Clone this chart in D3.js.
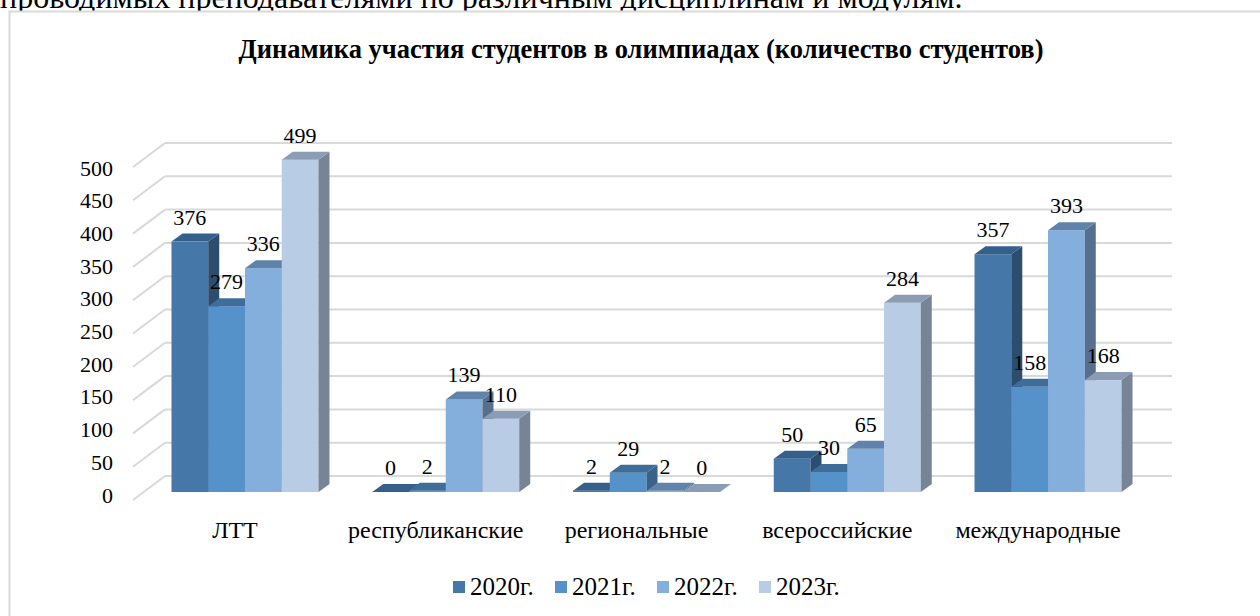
<!DOCTYPE html>
<html>
<head>
<meta charset="utf-8">
<script src="https://cdn.jsdelivr.net/npm/d3@7"></script>
<style>
  body { margin: 0; background: #fff; }
  svg text { font-family: "Liberation Serif", "Times New Roman", serif; fill: #000; }
</style>
</head>
<body>
<script>
// data
var categories = ["ЛТТ", "республиканские", "региональные", "всероссийские", "международные"];
var years = ["2020г.", "2021г.", "2022г.", "2023г."];
var v2020 = [376, 0, 2, 50, 357];
var v2021 = [279, 2, 29, 30, 158];
var v2022 = [336, 139, 2, 65, 393];
var v2023 = [499, 110, 0, 284, 168];
var yTicks = [0, 50, 100, 150, 200, 250, 300, 350, 400, 450, 500];

var series = [v2020, v2021, v2022, v2023];
var front = ["#4677a9", "#5592c9", "#84aedb", "#b8cce6"];
var topc  = ["#36608c", "#3f6d99", "#6083ab", "#8b9db5"];
var side  = ["#2c4d6e", "#3a6288", "#566f8e", "#768496"];
var serif = "'Liberation Serif', 'Times New Roman', serif";

var svg = d3.select("body").append("svg")
    .attr("width", 1260)
    .attr("height", 616);

// text above the chart box (cut off in the page)
svg.append("text")
    .attr("x", 0).attr("y", 8)
    .style("font-family", serif)
    .style("font-size", "32px")
    .text("проводимых преподавателями по различным дисциплинам и модулям.");

svg.append("rect")
    .attr("x", 9.5).attr("y", 11.5)
    .attr("width", 1300).attr("height", 700)
    .attr("fill", "#fff")
    .attr("stroke", "#d9d9d9")
    .attr("stroke-width", 2);

svg.append("text")
    .attr("x", 641).attr("y", 58)
    .attr("text-anchor", "middle")
    .style("font-family", serif)
    .style("font-size", "26.5px")
    .style("font-weight", "bold")
    .text("Динамика участия студентов в олимпиадах (количество студентов)");

// depth of the 3d box
var dx = 32, dy = -24;
var bdx = 11, bdy = -8;

var x = d3.scaleBand().domain(categories).range([144.6, 1148.4]);
var groupW = 147;
var xi = d3.scaleBand().domain(years)
    .range([(x.bandwidth() - groupW) / 2, (x.bandwidth() + groupW) / 2]);
var y = d3.scaleLinear().domain([0, 500]).range([500, 167]);

// grid: floor diagonals + back wall lines
var grid = svg.append("g");
grid.selectAll(".diag").data(yTicks).enter().append("line")
    .attr("x1", 133).attr("y1", function(d){ return y(d); })
    .attr("x2", 133 + dx).attr("y2", function(d){ return y(d) + dy; })
    .attr("stroke", "#d9d9d9").attr("stroke-width", 2);
grid.selectAll(".back").data(yTicks).enter().append("line")
    .attr("x1", 133 + dx).attr("y1", function(d){ return y(d) + dy; })
    .attr("x2", 1172).attr("y2", function(d){ return y(d) + dy; })
    .attr("stroke", "#d9d9d9").attr("stroke-width", 2);

// y labels
var yLab = d3.scaleLinear().domain([0, 500]).range([495, 168]);
var ax = svg.append("g")
    .attr("transform", "translate(119,0)")
    .call(d3.axisLeft(yLab).tickValues(yTicks).tickSize(0).tickPadding(6));
ax.select(".domain").remove();
ax.selectAll("text")
    .style("font-size", "22px")
    .style("font-family", serif);

// bars
var bars = [];
categories.forEach(function(c, ci){
    years.forEach(function(yr, si){
        bars.push({cat: c, year: yr, s: si, v: series[si][ci]});
    });
});

var g = svg.append("g");
bars.forEach(function(d){
    var x0 = x(d.cat) + xi(d.year);
    var w = xi.bandwidth();
    var base = y(0) + bdy;
    var top = y(d.v) + bdy;
    var bar = g.append("g");
    bar.append("rect")
        .attr("x", x0).attr("y", top)
        .attr("width", w).attr("height", base - top)
        .attr("fill", front[d.s]);
    bar.append("path")
        .attr("d", "M" + (x0 + w) + "," + top + "L" + (x0 + w + bdx) + "," + (top + bdy) +
            "L" + (x0 + w + bdx) + "," + (base + bdy) + "L" + (x0 + w) + "," + base + "Z")
        .attr("fill", side[d.s]);
    bar.append("path")
        .attr("d", "M" + x0 + "," + top + "L" + (x0 + bdx) + "," + (top + bdy) +
            "L" + (x0 + w + bdx) + "," + (top + bdy) + "L" + (x0 + w) + "," + top + "Z")
        .attr("fill", topc[d.s]);
});

// value labels
svg.append("g").selectAll("text").data(bars).enter().append("text")
    .attr("x", function(d){ return x(d.cat) + xi(d.year) + xi.bandwidth() / 2; })
    .attr("y", function(d){ return y(d.v) + bdy - 17; })
    .attr("text-anchor", "middle")
    .style("font-family", serif)
    .style("font-size", "22px")
    .text(function(d){ return d.v; });

// category labels
svg.append("g").selectAll("text").data(categories).enter().append("text")
    .attr("x", function(d){ return x(d) + x.bandwidth() / 2 - 10; })
    .attr("y", 538)
    .attr("text-anchor", "middle")
    .style("font-family", serif)
    .style("font-size", "24px")
    .text(function(d){ return d; });

// legend
var leg = svg.append("g").selectAll("g").data(years).enter().append("g")
    .attr("transform", function(d, i){ return "translate(" + (453 + i * 102) + ",581)"; });
leg.append("rect")
    .attr("width", 12).attr("height", 12)
    .attr("fill", function(d, i){ return front[i]; });
leg.append("text")
    .attr("x", 17).attr("y", 14)
    .style("font-family", serif)
    .style("font-size", "25px")
    .text(function(d){ return d; });
</script>
</body>
</html>
